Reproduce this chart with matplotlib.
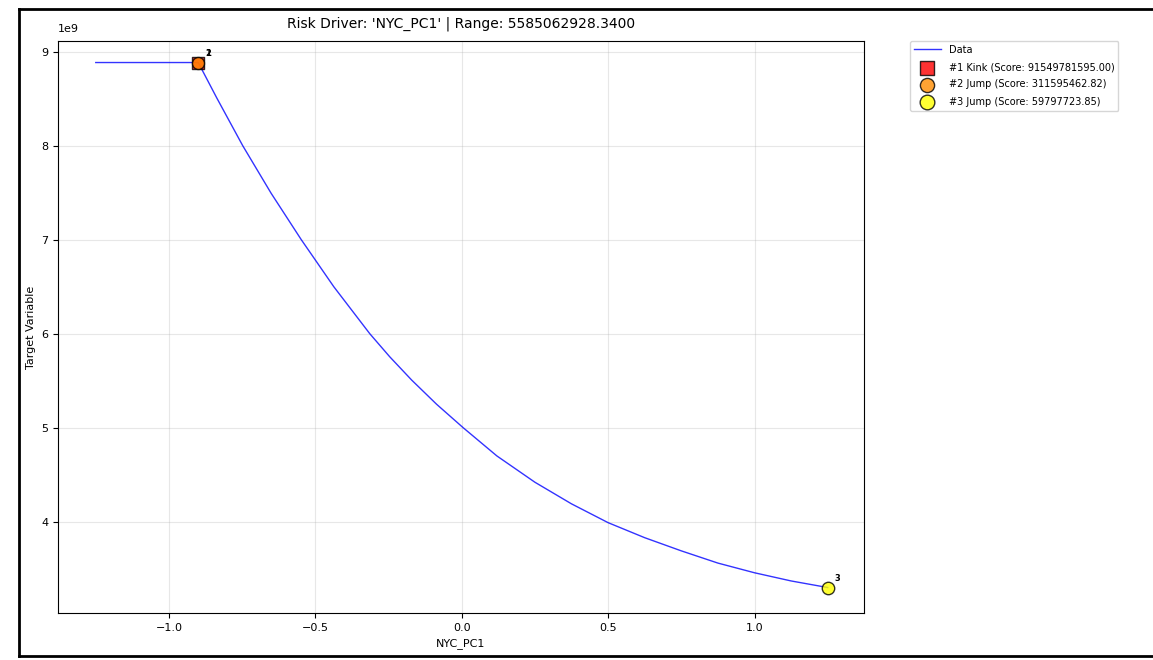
import matplotlib.pyplot as plt
from matplotlib.lines import Line2D

# curve (x in driver units, y in units of 1e9)
x_vals = [-1.25, -0.90, -0.837, -0.748, -0.651, -0.548, -0.50, -0.437, -0.314, -0.246,
          -0.171, -0.086, 0.005, 0.12, 0.25, 0.375, 0.50, 0.625, 0.75, 0.875,
          1.00, 1.125, 1.25]
y_vals = [8.885, 8.885, 8.51, 8.00, 7.494, 7.00, 6.784, 6.50, 6.00, 5.755,
          5.507, 5.25, 5.00, 4.70, 4.42, 4.19, 3.99, 3.83, 3.69, 3.56,
          3.457, 3.37, 3.30]
y_vals = [v * 1e9 for v in y_vals]

# flagged points
flag_labels = ['#1 Kink (Score: 91549781595.00)',
               '#2 Jump (Score: 311595462.82)',
               '#3 Jump (Score: 59797723.85)']
flag_x = [-0.90, -0.90, 1.25]
flag_y = [8.885e9, 8.885e9, 3.30e9]

title = "Risk Driver: 'NYC_PC1' | Range: 5585062928.3400"

W, H = 1153, 660
fig = plt.figure(figsize=(W / 100, H / 100), dpi=100)
ax = fig.add_axes([58 / W, 47 / H, 806 / W, 572 / H])

# window frame like in the screenshot (left, top, bottom edges)
fx0, fy0, fy1 = 19 / W, 1 - 9 / H, 1 - 656 / H
for xs, ys in [([fx0, 1.0], [fy0, fy0]), ([fx0, fx0], [fy0, fy1]), ([fx0, 1.0], [fy1, fy1])]:
    fig.add_artist(Line2D(xs, ys, transform=fig.transFigure, color='black', linewidth=2))

ax.plot(x_vals, y_vals, color='blue', alpha=0.8, linewidth=1, label='Data')

ax.scatter(flag_x[0], flag_y[0], marker='s', s=80, color='red', alpha=0.8,
           edgecolors='black', zorder=5, label=flag_labels[0])
ax.scatter(flag_x[1], flag_y[1], marker='o', s=75, color='darkorange', alpha=0.8,
           edgecolors='black', zorder=6, label=flag_labels[1])
ax.scatter(flag_x[2], flag_y[2], marker='o', s=80, color='yellow', alpha=0.8,
           edgecolors='black', zorder=6, label=flag_labels[2])

for i in range(3):
    ax.annotate(str(i + 1), (flag_x[i], flag_y[i]), xytext=(5, 5),
                textcoords='offset points', fontsize=6, fontweight='bold')

ax.set_xlim(-1.379, 1.374)
ax.set_ylim(3.029e9, 9.114e9)
ax.set_xticks([-1.0, -0.5, 0.0, 0.5, 1.0])
ax.tick_params(labelsize=8)
ax.grid(True, alpha=0.3)

# multiplier label drawn by hand so it sits where the reference has it
ax.yaxis.get_offset_text().set_visible(False)
ax.text(0, 1.012, '1e9', transform=ax.transAxes, fontsize=8, va='bottom', ha='left')

ax.set_title(title, fontsize=10, pad=10)
ax.set_xlabel('NYC_PC1', fontsize=8)
ax.set_ylabel('Target Variable', fontsize=8)

ax.legend(loc='upper left', bbox_to_anchor=(1.057, 1.0), borderaxespad=0,
          fontsize=7, labelspacing=0.75, markerscale=1.18, handlelength=2.8)

fig.savefig('out.png', dpi=100)
